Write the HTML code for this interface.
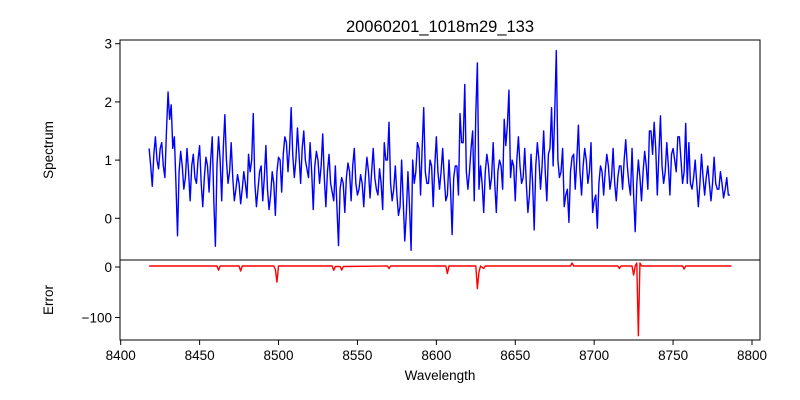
<!DOCTYPE html>
<html><head><meta charset="utf-8"><style>
body{margin:0;background:#fff}
svg{display:block;font-family:"Liberation Sans","DejaVu Sans",sans-serif}
</style></head><body>
<svg id="chart" width="800" height="400" xmlns="http://www.w3.org/2000/svg">
<rect width="800" height="400" fill="#fff"/>
<text x="440" y="32" font-size="16.5" text-anchor="middle">20060201_1018m29_133</text>
<text transform="translate(53,150) rotate(-90)" font-size="13.5" text-anchor="middle">Spectrum</text>
<text transform="translate(53,300) rotate(-90)" font-size="13.5" text-anchor="middle">Error</text>
<text x="440" y="380" font-size="13.5" text-anchor="middle">Wavelength</text>
<g id="plot"></g>
</svg>
<script>
const specStart = 8418;
const specEvenValues = [1.2,0.55,1.4,0.85,1.3,0.7,2.17,1.95,1.4,-0.3,1.15,0.5,1.2,0.3,1.1,0.6,1.25,0.2,1.05,0.45,1.4,-0.48,1.4,0.3,1.78,0.6,1.3,0.3,0.75,0.25,0.8,0.35,0.8,1.8,0.2,0.8,0.3,1.25,0.15,0.8,0.05,1.05,0.45,1.4,0.8,1.9,0.7,1.55,0.6,1.5,0.85,1.3,0.15,1.15,0.6,1.45,0.2,1.1,0.45,0.9,-0.47,0.7,0.1,0.95,0.3,1.2,0.4,0.75,0.2,1.05,0.35,1.2,0.5,0.85,0.15,1.0,1.65,0.3,0.9,0.05,1.0,-0.39,0.8,-0.55,0.6,1.3,0.4,1.9,0.6,1.0,0.2,1.4,0.5,1.2,0.3,1.0,-0.28,0.9,0.4,1.3,2.3,0.5,1.2,0.3,2.67,0.9,0.1,1.1,0.5,1.3,0.1,1.0,0.5,1.25,2.2,1.0,0.3,1.4,0.6,1.2,0.1,1.1,-0.2,1.3,0.5,1.5,0.3,1.2,0.9,2.88,0.7,1.2,0.4,-0.07,1.05,0.5,1.6,0.4,1.2,0.6,1.3,0.3,-0.17,0.9,0.4,1.1,0.5,1.2,0.3,0.9,0.5,1.35,0.6,1.2,-0.23,1.0,0.3,1.15,0.5,1.5,1.65,0.4,1.76,0.6,1.3,0.4,1.2,0.8,1.4,0.6,1.63,1.3,0.5,1.0,0.2,1.1,0.4,0.9,0.3,1.05,0.5,0.8,0.35,0.7,0.4];
const specOddValues = [0.9,1.1,1.0,1.2,0.9,1.5,1.7,1.2,0.6,0.8,0.9,0.7,0.8,0.9,0.7,1.0,0.6,0.7,0.9,1.0,0.3,0.9,1.0,1.2,1.0,0.8,0.7,0.5,0.6,0.5,0.6,1.1,1.0,0.6,0.5,0.9,0.7,0.5,0.4,0.6,0.8,1.0,1.1,1.3,1.2,1.1,1.0,1.1,1.2,1.0,0.7,0.8,0.9,1.0,0.9,0.7,0.8,0.6,0.3,0.2,0.5,0.6,0.7,0.8,0.9,0.6,0.5,0.6,0.7,0.8,0.8,0.7,0.4,0.6,1.3,1.0,0.6,0.5,0.4,0.2,0.3,0.1,0.2,1.0,0.8,1.2,1.2,0.8,0.6,0.9,0.9,0.8,0.8,0.7,0.4,0.5,0.7,0.9,1.8,1.3,0.8,0.8,1.5,1.8,0.5,0.6,0.8,0.9,0.7,0.6,0.8,0.9,1.7,1.6,0.7,0.9,1.0,0.9,0.7,0.6,0.4,0.6,0.9,1.0,0.9,0.8,1.1,1.9,1.8,1.0,0.8,0.2,0.5,0.8,1.1,1.0,0.8,0.9,1.0,0.8,0.1,0.4,0.6,0.8,0.8,0.9,0.7,0.6,0.7,0.9,1.0,0.9,0.4,0.4,0.6,0.7,0.8,0.9,1.5,1.1,1.2,1.1,0.9,0.8,0.9,1.1,1.0,1.4,1.0,0.8,0.6,0.6,0.7,0.6,0.6,0.7,0.7,0.6,0.6,0.6,0.5,0.6,0.5,0.4];
const errLambda = [8418,8461,8462,8463,8475,8476,8477,8497,8498,8499,8500,8534,8535,8536,8539,8540,8541,8569,8570,8571,8606,8607,8608,8625,8626,8627,8628,8630,8631,8685,8686,8687,8715,8716,8717,8724,8725,8726,8727,8728,8729,8730,8756,8757,8758,8787];
const errValues = [2,2,-6.5,2,2,-8,2,2,-5,-30,2,2,-6.5,1,1,-6,1,2,-3,2,2,-13,2,2,-43,-10,2,-3,2,2,8,2,2,-3,2,2,-16,2,8,-136,8,2,2,-4,2,2];
const xTicks = [8400,8450,8500,8550,8600,8650,8700,8750,8800];
const specTicks = [0,1,2,3];
const errTicks = [0,-100];

const NS = "http://www.w3.org/2000/svg";
const L = 120, R = 760, T1 = 40, B1 = 260, T2 = 260, B2 = 340;
function xS(v){ return 120.7 + (v - 8400) * (752 - 120.7) / 400; }
function yS(v){ return 218.3 - v * 58.2; }
function yE(v){ return 267 - v * 0.505; }
const g = document.getElementById('plot');
function mk(tag, attrs){ const e = document.createElementNS(NS, tag); for (const k in attrs) e.setAttribute(k, attrs[k]); g.appendChild(e); return e; }

// combine even/odd samples
const pts = [];
specEvenValues.forEach((v,i)=>{
  pts.push([specStart + 2*i, v]);
  if (i < specEvenValues.length - 1 && i < specOddValues.length) pts.push([specStart + 2*i + 1, specOddValues[i]]);
});
let d = pts.map((p,i)=> (i?'L':'M') + xS(p[0]).toFixed(2) + ',' + yS(p[1]).toFixed(2)).join(' ');
const sp = mk('path', {d: d, fill: 'none', stroke: '#0000ff', 'stroke-width': 1.4, 'stroke-linejoin': 'round'});



let d2 = errLambda.map((l,i)=> (i?'L':'M') + xS(l).toFixed(2) + ',' + yE(errValues[i]).toFixed(2)).join(' ');
const er = mk('path', {d: d2, fill: 'none', stroke: '#ff0000', 'stroke-width': 1.4, 'stroke-linejoin': 'round'});



const f1 = mk('rect', {x: L, y: T1, width: R-L, height: B1-T1, fill: 'none', stroke: '#000', 'stroke-width': 1});


const f2 = mk('rect', {x: L, y: T2, width: R-L, height: B2-T2, fill: 'none', stroke: '#000', 'stroke-width': 1});



xTicks.forEach(t=>{
  const x = xS(t);
  const tk = mk('line', {x1: x, x2: x, y1: B2, y2: B2+5, stroke: '#000'});
  
  
  const tx = mk('text', {x: x, y: B2+20, 'font-size': 13.5, 'text-anchor': 'middle'});
  tx.textContent = t;
  
  
});
specTicks.forEach(t=>{
  const y = yS(t);
  const tk = mk('line', {x1: L-5, x2: L, y1: y, y2: y, stroke: '#000'});
  
  
  const tx = mk('text', {x: L-8, y: y+5, 'font-size': 13.5, 'text-anchor': 'end'});
  tx.textContent = t;
  
  
});
errTicks.forEach(t=>{
  const y = yE(t);
  const tk = mk('line', {x1: L-5, x2: L, y1: y, y2: y, stroke: '#000'});
  
  
  const tx = mk('text', {x: L-8, y: y+5, 'font-size': 13.5, 'text-anchor': 'end'});
  tx.textContent = t === 0 ? '0' : '\u2212' + Math.abs(t);
  
  
});
</script>
</body></html>
